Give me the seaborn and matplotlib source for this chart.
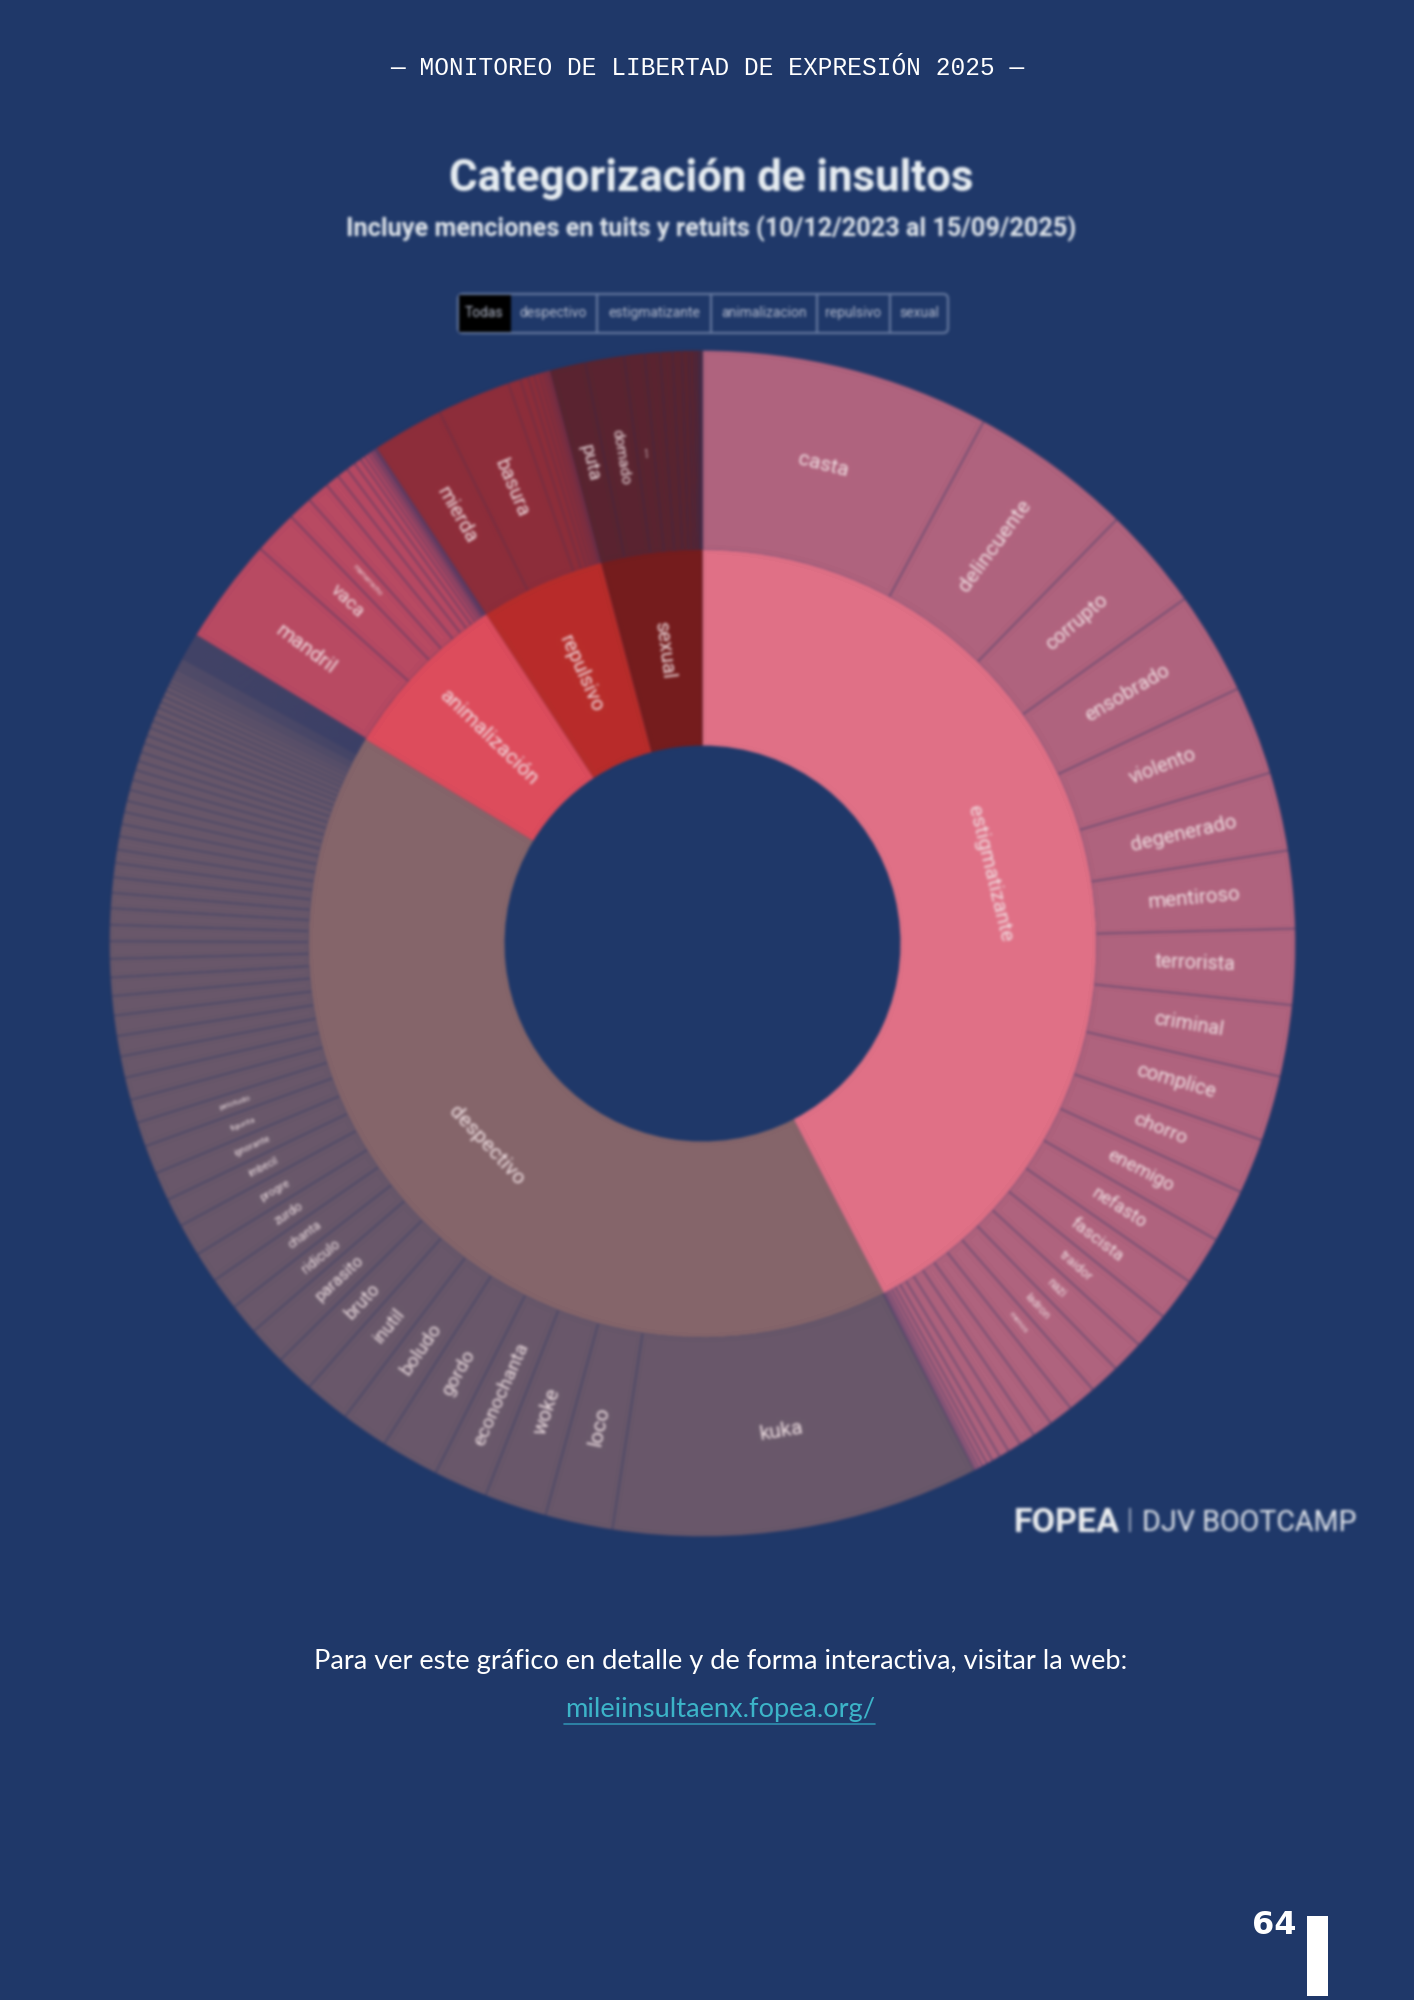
import numpy as np
import seaborn as sns
import matplotlib.pyplot as plt
from matplotlib.patches import FancyBboxPatch, Rectangle

# shares of the full circle (in degrees)
categories = ['estigmatizante', 'despectivo', 'animalización', 'repulsivo', 'sexual']
category_values = [152.6, 148.6, 25.5, 18.4, 14.9]

est_labels = ['casta', 'delincuente', 'corrupto', 'ensobrado', 'violento', 'degenerado',
              'mentiroso', 'terrorista', 'criminal', 'complice', 'chorro', 'enemigo',
              'nefasto', 'fascista', 'traidor', 'nazi', 'ladron', 'menos']
est_values = [28.3, 16.0, 10.1, 10.1, 8.7, 7.7, 7.6, 7.4, 7.0, 6.4, 5.4, 5.2, 4.8, 4.2,
              3.6, 3.2, 3.0, 2.8, 2.4, 2.0, 1.6, 1.3, 1.0, 0.8, 0.6, 0.5, 0.4, 0.3, 0.2]

des_labels = ['kuka', 'loco', 'woke', 'econochanta', 'gordo', 'boludo', 'inutil', 'bruto',
              'parasito', 'ridiculo', 'chanta', 'zurdo', 'progre', 'imbecil', 'ignorante',
              'figurita', 'pelotudo']
des_values = [36.0, 6.6, 6.1, 5.3, 5.7, 4.6, 4.5, 3.8, 3.8, 3.0, 3.2, 3.0, 3.2, 2.8, 2.8, 2.8, 2.4,
              2.3, 2.2, 2.1, 2.0, 2.0, 1.9, 1.8, 1.8, 1.7, 1.6, 1.6, 1.5, 1.5, 1.4, 1.3, 1.3,
              1.2, 1.2, 1.1, 1.1, 1.0, 1.0, 0.9, 0.9, 0.9, 0.8, 0.8, 0.7, 0.7, 0.7, 0.6, 0.6, 0.6,
              0.5, 0.4, 0.4, 0.3, 0.3, 0.3, 0.2, 0.2, 0.2, 0.2, 0.2, 0.2,
              0.1, 0.1, 0.1, 0.1, 0.1, 0.1, 0.1, 0.1, 0.1, 0.1, 0.1, 0.1, 0.1, 0.1,
              0.1, 0.1, 0.1, 0.1, 0.1, 0.1, 0.1, 0.1, 0.1, 0.1, 0.1, 0.1, 0.1]

ani_labels = ['mandril', 'vaca', 'mamarracho']
ani_values = [10.4, 4.3, 2.4, 2.2, 1.4, 1.1, 0.9, 0.7, 0.5, 0.4, 0.3, 0.2, 0.2,
              0.1, 0.1, 0.1]

rep_labels = ['mierda', 'basura']
rep_values = [7.0, 7.2, 1.2, 0.8, 0.6, 0.5, 0.4, 0.3, 0.2, 0.2]

sex_labels = ['puta', 'domado', 'zorra']
sex_values = [3.5, 3.8, 2.0, 1.5, 1.2, 0.9, 0.7, 0.5, 0.3, 0.2, 0.1, 0.1, 0.1]

buttons = ['Todas', 'despectivo', 'estigmatizante', 'animalizacion', 'repulsivo', 'sexual']

# label font sizes, in the same order as the labels above
est_sizes = [15, 15.3, 14.5, 14.5, 14.5, 14.8, 14.8, 14.2, 14.2, 14.5, 14, 13.5, 13, 12.5, 9.5, 8.5, 8, 6]
des_sizes = [15, 15, 14.8, 13.8, 13.8, 13.8, 13, 13, 11.8, 10, 9, 9, 8.2, 7.2, 6.6, 6, 6]
ani_sizes = [15, 13.5, 5]
rep_sizes = [14.5, 14.5]
sex_sizes = [13.5, 11, 3.2]
inner_sizes = [15.2, 15, 15, 14.8, 14.5]

BG = '#1F3869'
inner_colors = sns.color_palette(['#E07086', '#85656A', '#DD4C5C', '#B82C2A', '#751C1D'])
outer_tones = ['#B0637E', '#69586A', '#B84A62', '#8E2D3A', '#5A2430']
edge_alphas = [0.38, 0.32, 0.38, 0.14, 0.14]

W, H = 1414, 2000
CX, CY = 702.5, H - 943.5
R_HOLE, R_MID, R_OUT = 198, 394, 593


def soft_focus(img, dpi):
    '''Small gaussian-like blur, the source chart is a low-res image'''
    pad = 6
    a = np.pad(img, ((pad, pad), (pad, pad), (0, 0)))
    a[..., :3] *= a[..., 3:]
    kernel = [1 / 16, 4 / 16, 6 / 16, 4 / 16, 1 / 16]
    for axis in (0, 1):
        for _ in range(2):
            a = sum(k * np.roll(a, i - 2, axis=axis) for i, k in enumerate(kernel))
    alpha = np.clip(a[..., 3:], 1e-4, 1)
    a[..., :3] = np.clip(a[..., :3] / alpha, 0, 1)
    return a, -pad, -pad


def put_label(ax, wedge, radius, text, size, tangential=False, color='#F1E1E4'):
    phi = (wedge.theta1 + wedge.theta2) / 2
    rot = phi - 90 if tangential else phi
    rot = (rot + 90) % 180 - 90
    x = CX + radius * np.cos(np.radians(phi))
    y = CY + radius * np.sin(np.radians(phi))
    ax.text(x, y, text, fontsize=size, rotation=rot, rotation_mode='anchor',
            ha='center', va='center', color=color)


sns.set_theme(style='white')
plt.rcParams['font.family'] = ['Roboto', 'DejaVu Sans']

fig = plt.figure(figsize=(W / 100, H / 100), dpi=100, facecolor=BG)
ax = fig.add_axes([0, 0, 1, 1])
ax.patch.set_visible(False)

# outer ring
children = [est_values, des_values, ani_values, rep_values, sex_values]
outer_values = [v for group in children for v in group]
outer_colors = [tone for tone, group in zip(outer_tones, children) for _ in group]
outer_wedges, _ = ax.pie(outer_values, radius=R_OUT, center=(CX, CY), startangle=90,
                         counterclock=False, colors=outer_colors,
                         wedgeprops=dict(width=R_OUT - R_MID, linewidth=1.0))
# inner ring
inner_wedges, _ = ax.pie(category_values, radius=R_MID, center=(CX, CY), startangle=90,
                         counterclock=False, colors=inner_colors,
                         wedgeprops=dict(width=R_MID - R_HOLE, linewidth=0))

ax.set_xlim(0, W)
ax.set_ylim(0, H)
ax.set_aspect('auto')

all_labels = [est_labels, des_labels, ani_labels, rep_labels, sex_labels]
all_sizes = [est_sizes, des_sizes, ani_sizes, rep_sizes, sex_sizes]
R_LABEL = (R_MID + R_OUT) / 2
start = 0
for labels, sizes, group, edge_alpha in zip(all_labels, all_sizes, children, edge_alphas):
    for wedge in outer_wedges[start:start + len(group)]:
        wedge.set_edgecolor((0.14, 0.2, 0.4, edge_alpha))
    for i, (name, size) in enumerate(zip(labels, sizes)):
        put_label(ax, outer_wedges[start + i], R_LABEL, name, size,
                  tangential=name in ('casta', 'kuka'))
    start += len(group)

for wedge, name, size in zip(inner_wedges, categories, inner_sizes):
    put_label(ax, wedge, (R_HOLE + R_MID) / 2, name, size,
              tangential=name in ('estigmatizante', 'despectivo'))

# title block, part of the same low-res image
ax.text(711, H - 179, 'Categorización de insultos', fontsize=31.5, fontweight='bold',
        color='#EAF0F4', ha='center', va='center')
ax.text(711, H - 229, 'Incluye menciones en tuits y retuits (10/12/2023 al 15/09/2025)',
        fontsize=18.2, fontweight='bold', color='#E2E8EE', ha='center', va='center')

# filter buttons
ax.add_patch(FancyBboxPatch((460, H - 331), 486, 35, boxstyle='round,pad=2,rounding_size=5',
                            facecolor='none', edgecolor='#66799F', linewidth=1.6))
ax.add_patch(Rectangle((459, H - 332), 52, 37, facecolor='black', edgecolor='none'))
ax.vlines([597, 711, 817, 890], H - 333, H - 294, color='#66799F', linewidth=1.6)
for name, x in zip(buttons, [484, 553, 654, 764, 853, 919]):
    ax.text(x, H - 313, name, fontsize=10, color='#B5BCCE', ha='center', va='center')

# logo
ax.text(1014, H - 1523, 'FOPEA', fontsize=24.5, fontweight='bold', color='#EEF0F2', va='center')
ax.vlines([1130], H - 1532, H - 1508, color='#9AA5BC', linewidth=1.5)
ax.text(1142, H - 1523, 'DJV BOOTCAMP', fontsize=20.6, color='#E4E8EE', va='center')

ax.set_agg_filter(soft_focus)

# sharp page furniture
fig.text(707 / W, 1 - 68 / H, '— MONITOREO DE LIBERTAD DE EXPRESIÓN 2025 —', fontsize=17.65,
         family='Liberation Mono', color='white', ha='center', va='center')
fig.text(721 / W, 1 - 1661 / H, 'Para ver este gráfico en detalle y de forma interactiva, visitar la web:',
         fontsize=19.6, family='Lato', color='white', ha='center', va='center')
fig.text(720 / W, 1 - 1709 / H, 'mileiinsultaenx.fopea.org/', fontsize=19.6,
         family='Lato', color='#3CB4C8', ha='center', va='center')
fig.add_artist(plt.Line2D([564 / W, 875 / W], [1 - 1724 / H, 1 - 1724 / H], color='#2F8FB0', linewidth=1.2))
fig.text(1296 / W, 1 - 1926 / H, '64', fontsize=23, fontweight='bold', family='DejaVu Sans',
         color='white', ha='right', va='center')
fig.add_artist(Rectangle((1307 / W, 1 - 1996 / H), 21 / W, 80 / H, transform=fig.transFigure,
                         facecolor='white', edgecolor='none'))

fig.savefig('out.png', dpi=100, facecolor=BG)
